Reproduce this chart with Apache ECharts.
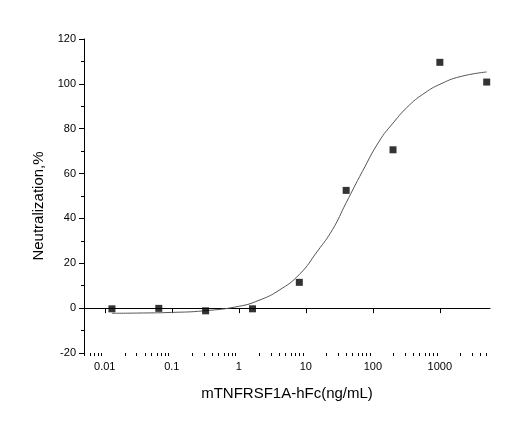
<!DOCTYPE html>
<html lang="en">
<head>
    <meta charset="UTF-8">
    <title>Neutralization</title>
    <script src="https://cdn.jsdelivr.net/npm/echarts@6/dist/echarts.min.js"></script>
    <style>
        body{ margin:0; background:#fff }
        #main{ width:520px; height:434px }
    </style>
</head>
<body>
<div id="main"></div>
<script type="text/javascript">
    // measured points
    var doses = [0.0128, 0.064, 0.32, 1.6, 8, 40, 200, 1000, 5000];
    var neutral = [-0.3, -0.1, -1.2, -0.3, 11.5, 52.5, 70.6, 109.6, 100.8];
    // fitted curve
    var fitDoses = [0.0128, 0.03, 0.1, 0.3, 1, 2, 4, 8, 15, 25, 40, 70, 125, 200, 350, 600, 1000, 2000, 5000];
    var fitValues = [-2.3, -2.2, -1.9, -1.2, 0.8, 3.5, 8, 15, 25.5, 35, 47, 61, 74.5, 82.5, 90.5, 96, 99.8, 103.2, 105.3];
    var xLabels = [0.01, 0.1, 1, 10, 100, 1000];

    var minorX = [];
    for (var e = -3; e <= 3; e++) {
        for (var m = 2; m <= 9; m++) {
            var v = m * Math.pow(10, e);
            if (v > 0.0049 && v < 5600) minorX.push(+v.toPrecision(3));
        }
    }

    var myChart = echarts.init(document.getElementById('main'));
    var font = 'Liberation Sans, Arial, sans-serif';
    var option = {
        animation: false,
        backgroundColor: '#fff',
        grid: { left: 84, right: 30, top: 39, bottom: 81 },
        xAxis: [{
            type: 'log',
            min: 0.0049,
            max: 5600,
            name: 'mTNFRSF1A-hFc(ng/mL)',
            nameLocation: 'middle',
            nameGap: 33,
            nameTextStyle: { color: '#000', fontSize: 15, fontFamily: font },
            axisLine: { lineStyle: { color: '#000', width: 1 } },
            axisTick: { length: 5, lineStyle: { color: '#000' }, customValues: xLabels },
            axisLabel: {
                color: '#000', fontSize: 11, fontFamily: font, margin: 8,
                customValues: xLabels,
                formatter: function (v) { return String(+v.toPrecision(3)); }
            },
            splitLine: { show: false }
        }, {
            type: 'log',
            min: 0.0049,
            max: 5600,
            position: 'bottom',
            axisLine: { show: false },
            axisTick: { length: 3, lineStyle: { color: '#000' }, customValues: minorX },
            axisLabel: { show: false },
            splitLine: { show: false }
        }],
        yAxis: {
            type: 'value',
            min: -20,
            max: 120,
            interval: 20,
            name: 'Neutralization,%',
            nameLocation: 'middle',
            nameGap: 37,
            nameTextStyle: { color: '#000', fontSize: 15, fontFamily: font, padding: [0, 20, 0, 0] },
            axisLine: { show: true, lineStyle: { color: '#000', width: 1 } },
            axisTick: { show: true, length: 5, lineStyle: { color: '#000' } },
            minorTick: { show: true, splitNumber: 2, length: 3, lineStyle: { color: '#000' } },
            axisLabel: { color: '#000', fontSize: 11, fontFamily: font, margin: 8 },
            splitLine: { show: false }
        },
        series: [
            {
                type: 'line',
                smooth: true,
                showSymbol: false,
                lineStyle: { color: '#555', width: 1 },
                data: fitDoses.map(function (d, i) { return [d, fitValues[i]]; }),
                z: 2
            },
            {
                type: 'scatter',
                symbol: 'rect',
                symbolSize: 7,
                itemStyle: { color: '#000' },
                data: doses.map(function (d, i) { return [d, neutral[i]]; }),
                z: 3
            }
        ]
    };
    myChart.setOption(option);
</script>
</body>
</html>
